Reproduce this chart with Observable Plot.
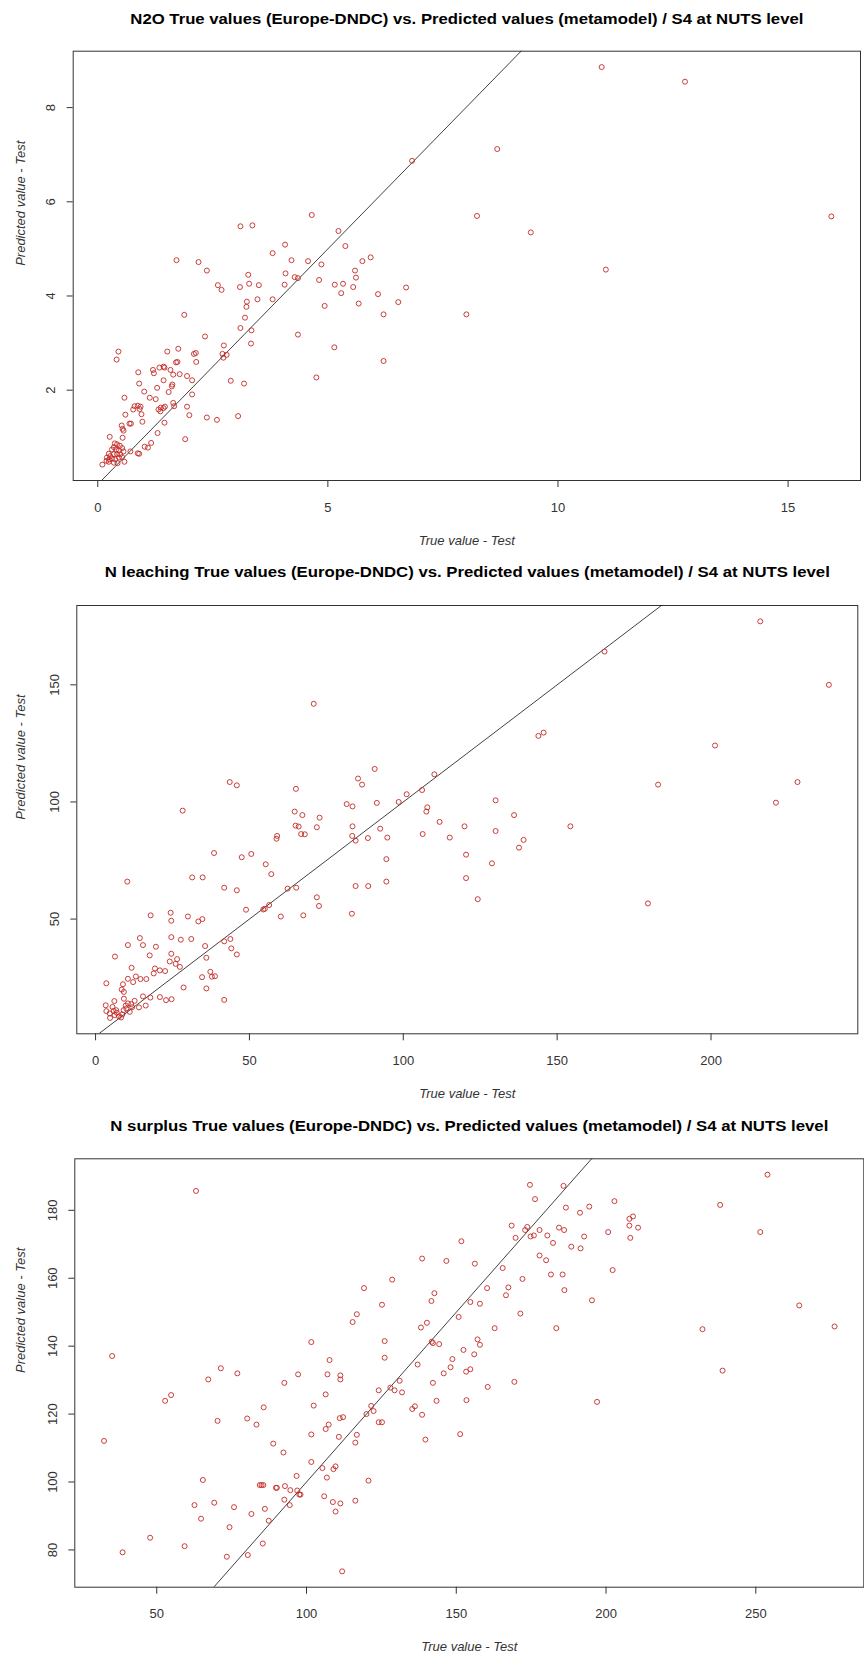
<!DOCTYPE html>
<html>
<head>
<meta charset="utf-8">
<script src="https://cdn.jsdelivr.net/npm/d3@7"></script>
<script src="https://cdn.jsdelivr.net/npm/@observablehq/plot@0.6"></script>
<style>
  body { margin: 0; background: #fff; }
  #chart { position: relative; width: 864px; height: 1657px; overflow: hidden; }
  #chart svg { position: absolute; left: 0; }
</style>
</head>
<body>
<div id="chart"></div>
<script>
// [true value, predicted value] pairs, test set, per output variable
const n2oPairs = [
  [6.83,6.87],[4.65,5.72],[3.10,5.48],[3.36,5.50],[5.23,5.38],[4.07,5.09],[5.38,5.06],[3.80,4.91],
  [1.71,4.76],[2.19,4.72],[4.21,4.76],[4.57,4.74],[4.86,4.67],[5.75,4.74],[5.93,4.82],[2.37,4.54],
  [5.59,4.54],[4.08,4.48],[3.27,4.45],[4.28,4.40],[4.35,4.38],[5.61,4.39],[4.81,4.34],[2.61,4.23],
  [2.69,4.13],[3.09,4.19],[3.29,4.26],[3.50,4.23],[4.06,4.24],[5.15,4.24],[5.33,4.26],[5.55,4.19],
  [5.29,4.06],[6.70,4.18],[6.09,4.04],[3.24,3.88],[3.23,3.77],[3.47,3.93],[3.80,3.93],[6.53,3.87],
  [5.67,3.84],[4.93,3.79],[6.21,3.61],[1.88,3.60],[3.20,3.54],[3.10,3.32],[3.34,3.27],[2.33,3.14],
  [4.35,3.18],[3.33,2.99],[2.74,2.95],[5.14,2.91],[0.45,2.82],[0.41,2.65],[1.51,2.82],[1.75,2.88],
  [2.09,2.77],[2.13,2.79],[2.71,2.77],[2.80,2.75],[2.73,2.69],[1.73,2.60],[1.70,2.59],[2.14,2.60],
  [6.21,2.62],[0.88,2.38],[1.20,2.43],[1.22,2.36],[1.34,2.48],[1.43,2.50],[1.45,2.48],[1.58,2.43],
  [1.64,2.33],[1.78,2.34],[1.94,2.30],[2.05,2.21],[1.43,2.21],[2.89,2.20],[3.18,2.14],[4.75,2.27],
  [0.90,2.14],[1.62,2.12],[1.61,2.08],[1.29,2.05],[1.01,1.97],[1.54,1.96],[0.58,1.84],[1.13,1.84],
  [1.26,1.81],[2.05,1.91],[1.64,1.73],[1.66,1.66],[0.80,1.66],[0.87,1.67],[0.91,1.60],[0.77,1.59],
  [0.93,1.65],[1.32,1.59],[1.37,1.63],[1.43,1.62],[1.46,1.65],[1.36,1.55],[1.94,1.65],[0.60,1.48],
  [0.95,1.49],[0.97,1.33],[1.99,1.47],[2.37,1.42],[2.59,1.37],[3.05,1.45],[1.45,1.31],[0.69,1.29],
  [0.72,1.29],[0.52,1.25],[0.54,1.18],[0.56,1.14],[1.30,1.09],[1.90,0.96],[0.26,1.01],[0.54,0.99],
  [1.16,0.88],[1.02,0.80],[1.09,0.78],[0.87,0.66],[0.90,0.65],[0.71,0.70],
  [0.37,0.87],[0.42,0.85],[0.48,0.82],[0.35,0.79],[0.31,0.74],[0.40,0.74],[0.46,0.72],[0.53,0.77],
  [0.56,0.70],[0.24,0.65],[0.27,0.60],[0.35,0.64],[0.42,0.64],[0.49,0.64],[0.20,0.57],[0.25,0.53],
  [0.31,0.55],[0.38,0.53],[0.46,0.57],[0.53,0.58],[0.24,0.48],[0.35,0.46],[0.43,0.45],[0.58,0.48],
  [0.10,0.42],[0.19,0.50],
  [10.95,8.86],[12.76,8.55],[8.68,7.12],[8.24,5.70],[9.41,5.35],[15.94,5.69],[11.04,4.56],[8.01,3.61]
];

const leachingPairs = [
  [70.9,141.9],[90.7,114.1],[43.6,108.5],[45.9,107.1],[65.1,105.6],[85.3,110.0],[86.6,107.4],[110.1,111.8],
  [101.1,103.3],[106.1,105.1],[98.5,100.0],[81.6,99.1],[83.5,98.1],[91.4,99.6],[28.3,96.3],[64.7,95.9],
  [67.2,94.4],[72.8,93.3],[107.8,97.7],[107.5,95.9],[111.8,91.5],[65.0,89.9],[66.0,89.5],[71.9,89.2],
  [83.5,89.6],[92.5,88.6],[66.8,86.3],[68.0,86.2],[106.3,86.3],[83.4,85.5],[84.5,83.5],[88.5,84.6],
  [94.8,84.8],[115.1,84.8],[59.0,85.5],[58.8,84.3],[38.5,78.2],[47.5,76.4],[50.6,77.8],[94.5,75.6],
  [55.3,73.4],[57.1,69.2],[31.4,67.8],[34.8,67.8],[10.3,66.0],[41.8,63.4],[45.9,62.3],[62.4,63.0],
  [65.2,63.4],[84.5,64.1],[88.6,64.1],[94.5,66.0],[71.9,59.3],[72.6,55.6],[48.9,54.0],[54.5,54.1],
  [55.0,54.4],[56.4,56.0],[60.2,51.1],[67.5,51.6],[83.3,52.3],[17.9,51.6],[24.4,52.7],[24.6,49.3],
  [30.0,51.1],[33.4,49.0],[34.7,50.0],[24.6,42.3],[27.7,41.2],[31.1,41.5],[14.4,41.9],[10.5,38.9],
  [15.4,38.9],[19.6,38.2],[35.6,38.5],[41.8,40.5],[43.8,41.5],[44.1,37.5],[45.9,34.9],[6.3,34.0],
  [17.6,34.5],[24.6,35.2],[26.5,32.9],[24.1,31.9],[26.0,30.9],[27.4,29.6],[36.0,33.5],[11.7,29.2],
  [19.3,28.9],[20.9,28.1],[22.6,27.8],[18.9,26.8],[37.3,27.5],[37.8,25.4],[38.8,25.6],[34.6,25.2],
  [10.5,24.5],[13.1,25.5],[14.6,24.4],[12.2,23.1],[16.5,24.4],[3.5,22.6],[8.9,22.2],[8.5,19.9],
  [9.2,18.9],[28.6,20.8],[36.0,20.4],[41.8,15.5],[9.2,16.0],[6.1,15.0],[15.4,17.0],[17.8,16.5],
  [20.9,16.7],[22.9,15.4],[24.7,15.8],[3.3,13.2],[5.5,12.5],[6.7,11.1],[3.5,10.7],[4.6,9.7],
  [6.2,9.0],[7.6,8.5],[8.7,9.3],[9.1,11.1],[9.8,13.1],[10.5,14.0],[11.6,13.7],[12.7,15.1],
  [14.1,12.3],[16.3,13.1],[11.9,12.4],[8.3,8.0],[4.7,7.8],[6.9,10.0],[5.9,10.8],[10.0,11.8],
  [11.1,10.4],
  [216.0,177.1],[238.3,150.0],[165.4,164.2],[143.9,128.2],[145.6,129.6],[201.3,124.1],[182.8,107.4],
  [228.1,108.5],[221.1,99.7],[130.0,100.7],[136.0,94.4],[119.9,89.6],[130.0,87.6],[154.3,89.6],
  [139.1,83.8],[137.6,80.5],[120.4,77.5],[128.8,73.8],[120.4,67.5],[124.2,58.5],[179.5,56.7]
];

const surplusPairs = [
  [63.1,185.7],[35.1,137.1],[32.4,112.1],[52.8,123.9],[54.8,125.6],[38.6,79.3],[47.8,83.6],[59.3,81.1],
  [65.4,100.6],[62.6,93.2],[64.8,89.2],[69.2,93.9],[67.2,130.2],[71.4,133.5],[76.9,132.0],[70.3,118.0],
  [73.4,78.0],[74.3,86.7],[75.8,92.6],[80.2,118.7],[83.3,116.9],[85.7,122.0],[81.6,90.6],[80.4,78.5],
  [85.4,81.9],[86.1,92.1],[87.4,88.6],[84.4,99.1],[85.6,99.1],[85.0,99.1],[88.9,111.3],[92.3,108.7],
  [92.6,129.2],[97.2,131.7],[89.8,98.3],[90.1,98.3],[92.8,98.8],[92.6,94.8],[94.6,97.6],[94.4,93.2],
  [96.7,101.8],[96.9,97.5],[97.6,96.3],[98.0,96.3],[101.6,141.2],[102.4,122.5],[101.6,114.0],[101.6,105.9],
  [105.3,104.1],[105.9,95.8],[106.8,101.3],[106.4,125.8],[106.4,115.6],[107.4,116.9],[107.0,131.7],[107.7,135.9],
  [108.8,94.1],[109.0,103.8],[109.7,104.6],[109.7,91.3],[110.8,113.3],[111.1,118.8],[112.2,119.1],[111.3,131.4],
  [111.3,130.2],[111.3,93.7],[111.9,73.7],[115.4,147.1],[116.8,149.4],[119.2,157.1],[116.3,111.6],[116.8,113.9],
  [116.3,94.5],[120.0,120.0],[121.6,122.4],[122.4,120.9],[120.7,100.4],[124.1,127.0],[124.1,117.6],[125.2,117.6],
  [125.2,152.2],[126.1,141.5],[126.1,136.6],[128.0,127.8],[129.4,127.0],[128.6,159.6],[131.1,129.8],[131.9,126.4],
  [135.3,121.5],[136.2,122.3],[137.1,134.6],[138.6,165.8],[138.2,145.5],[138.6,119.8],[139.7,112.5],[140.2,146.9],
  [141.7,153.3],[142.7,155.6],[141.8,141.3],[142.2,140.9],[144.3,140.6],[142.2,129.2],[143.4,123.9],[145.8,132.0],
  [146.7,165.1],[148.1,133.8],[148.7,136.2],
  [253.9,190.5],[238.1,181.6],[251.5,173.6],[264.5,152.0],[276.3,145.8],[232.2,145.0],[238.9,132.8],[174.6,187.5],
  [185.8,187.2],[176.3,183.3],[202.8,182.7],[186.6,180.8],[194.4,181.1],[191.3,179.3],[207.8,177.5],[209.0,178.2],
  [207.8,175.5],[210.7,174.9],[208.1,171.9],[200.7,173.6],[168.5,175.5],[173.7,175.1],[173.0,174.2],[169.8,171.9],
  [174.8,172.3],[175.9,172.6],[177.8,174.2],[184.3,174.9],[186.0,174.2],[180.4,172.6],[182.3,170.4],[192.7,172.3],
  [188.4,169.3],[191.5,168.8],[151.7,170.9],[177.8,166.7],[180.0,165.3],[156.2,164.3],[165.5,163.0],[181.6,161.1],
  [185.5,161.1],[202.2,162.4],[172.1,159.8],[160.3,157.1],[167.4,157.3],[186.1,156.5],[166.6,155.0],[154.7,153.0],
  [157.9,152.5],[195.3,153.5],[150.8,148.6],[171.4,149.6],[162.8,145.3],[183.4,145.3],[157.1,142.0],[157.9,140.4],
  [152.4,138.9],[156.0,137.6],[153.3,132.5],[154.7,133.2],[169.4,129.5],[160.5,128.0],[153.4,124.1],[197.0,123.6],
  [151.3,114.1]
];

// Titles and tick values
const titles = [
  "N2O True values (Europe-DNDC) vs. Predicted values (metamodel) / S4 at NUTS level",
  "N leaching True values (Europe-DNDC) vs. Predicted values (metamodel) / S4 at NUTS level",
  "N surplus True values (Europe-DNDC) vs. Predicted values (metamodel) / S4 at NUTS level"
];
const xTickSets = [[0, 5, 10, 15], [0, 50, 100, 150, 200], [50, 100, 150, 200, 250]];
const yTickSets = [[2, 4, 6, 8], [50, 100, 150], [80, 100, 120, 140, 160, 180]];
const xLabel = "True value - Test";
const yLabel = "Predicted value - Test";

// Axis ranges: data range padded by 4% on each side
function paddedRange(values) {
  const [lo, hi] = d3.extent(values);
  const pad = (hi - lo) * 0.04;
  return [lo - pad, hi + pad];
}

// Panel geometry (SVG slice and plotting-region margins)
const layout = [
  {top: 0,    height: 555, mt: 50.7, mr: 4,   mb: 75,   ml: 72.7, titleDy: -31.4, titleLen: 673},
  {top: 555,  height: 555, mt: 50,   mr: 6.7, mb: 76.7, ml: 76.3, titleDy: -32.7, titleLen: 725},
  {top: 1110, height: 547, mt: 48.3, mr: 0.7, mb: 70.3, ml: 74.3, titleDy: -32.3, titleLen: 718}
];

const datasets = [n2oPairs, leachingPairs, surplusPairs];
const container = document.getElementById("chart");
const textColor = "#333";
const font = "'Liberation Sans', Arial, sans-serif";

datasets.forEach((pairs, i) => {
  const L = layout[i];
  const rows = pairs.map(([t, p]) => ({truth: t, pred: p}));
  const xDomain = paddedRange(rows.map(d => d.truth));
  const yDomain = paddedRange(rows.map(d => d.pred));
  const diag = [Math.min(xDomain[0], yDomain[0]), Math.max(xDomain[1], yDomain[1])];

  const svg = Plot.plot({
    width: 864,
    height: L.height,
    marginTop: L.mt,
    marginRight: L.mr,
    marginBottom: L.mb,
    marginLeft: L.ml,
    x: {domain: xDomain, label: null},
    y: {domain: yDomain, label: null},
    style: {fontFamily: font, fontSize: "13px", color: textColor, background: "white", overflow: "visible"},
    marks: [
      Plot.frame({stroke: "#333", strokeWidth: 1}),
      // 1:1 reference line
      Plot.line(diag, {x: d => d, y: d => d, stroke: "#111", strokeWidth: 0.8, clip: true}),
      Plot.dot(rows, {x: "truth", y: "pred", r: 2.5, stroke: "#c22a26", strokeWidth: 0.9, fill: "none"}),
      Plot.axisX({ticks: xTickSets[i], tickSize: 7, tickPadding: 15, fontSize: 13, stroke: "#333",
        fill: textColor, label: null}),
      Plot.axisY({ticks: yTickSets[i], tickSize: 6, tickFormat: () => "", stroke: "#333", label: null}),
      Plot.text(yTickSets[i], {y: d => d, text: d => String(d), frameAnchor: "left", dx: -22, rotate: -90,
        fontSize: 13, fill: textColor, textAnchor: "middle", lineAnchor: "middle"}),
      Plot.text([titles[i]], {text: d => d, frameAnchor: "top", dy: L.titleDy, fontSize: 14,
        fontWeight: "bold", fill: "#000", lineAnchor: "middle"}),
      Plot.text([xLabel], {text: d => d, frameAnchor: "bottom", dy: 60, fontSize: 13,
        fontStyle: "italic", fill: textColor, lineAnchor: "middle"}),
      Plot.text([yLabel], {text: d => d, frameAnchor: "left", dx: 20 - L.ml, rotate: -90, fontSize: 13,
        fontStyle: "italic", fill: textColor, lineAnchor: "middle"})
    ]
  });

  svg.style.top = L.top + "px";
  d3.select(svg).selectAll("text")
    .filter(function() { return this.textContent === titles[i]; })
    .attr("textLength", L.titleLen)
    .attr("lengthAdjust", "spacingAndGlyphs");
  container.appendChild(svg);
});
</script>
</body>
</html>
